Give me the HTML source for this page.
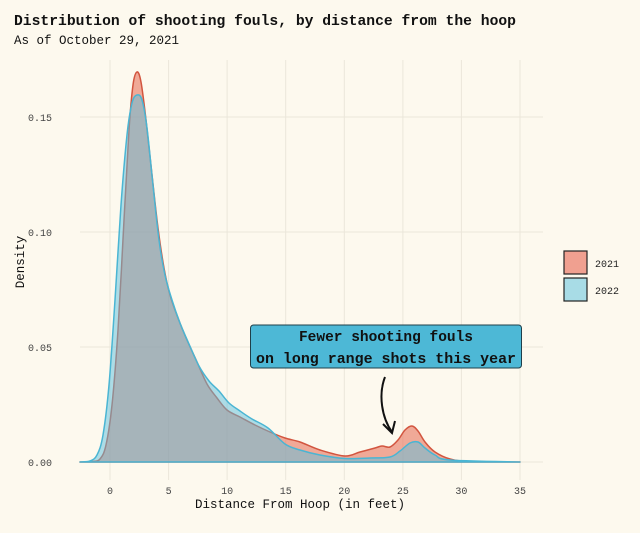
<!DOCTYPE html>
<html><head><meta charset="utf-8"><style>
body{margin:0;background:#fdf9ee;}
svg{display:block;font-family:"Liberation Mono","DejaVu Sans Mono",monospace;}
</style></head><body>
<svg width="640" height="533" viewBox="0 0 640 533">
<rect width="640" height="533" fill="#fdf9ee"/>
<text x="14" y="25" font-size="15" font-weight="bold" fill="#111" textLength="502" lengthAdjust="spacingAndGlyphs">Distribution of shooting fouls, by distance from the hoop</text>
<text x="14" y="44" font-size="12.5" fill="#111">As of October 29, 2021</text>
<g stroke="#ebe6da" stroke-width="1">
<line x1="80" x2="543" y1="462" y2="462"/><line x1="80" x2="543" y1="347" y2="347"/><line x1="80" x2="543" y1="232" y2="232"/><line x1="80" x2="543" y1="117" y2="117"/>
<line x1="110" x2="110" y1="60" y2="480"/><line x1="168.6" x2="168.6" y1="60" y2="480"/><line x1="227.1" x2="227.1" y1="60" y2="480"/><line x1="285.7" x2="285.7" y1="60" y2="480"/><line x1="344.3" x2="344.3" y1="60" y2="480"/><line x1="402.9" x2="402.9" y1="60" y2="480"/><line x1="461.4" x2="461.4" y1="60" y2="480"/><line x1="520" x2="520" y1="60" y2="480"/>
</g>
<g font-size="10" fill="#444" text-anchor="end">
<text x="52" y="466">0.00</text><text x="52" y="351">0.05</text><text x="52" y="236">0.10</text><text x="52" y="121">0.15</text>
</g>
<g font-size="10" fill="#444" text-anchor="middle">
<text x="110" y="494">0</text><text x="168.6" y="494">5</text><text x="227.1" y="494">10</text><text x="285.7" y="494">15</text><text x="344.3" y="494">20</text><text x="402.9" y="494">25</text><text x="461.4" y="494">30</text><text x="520" y="494">35</text>
</g>
<text x="300" y="508" font-size="12.5" fill="#111" text-anchor="middle">Distance From Hoop (in feet)</text>
<text transform="translate(24,262) rotate(-90)" font-size="12.5" fill="#111" text-anchor="middle">Density</text>
<path id="red" fill="#e8735e" fill-opacity="0.6" stroke="#d2553f" stroke-width="1.5" stroke-linejoin="round" d=""/>
<path id="blue" fill="#5bc0de" fill-opacity="0.5" stroke="#4ab5d3" stroke-width="1.5" stroke-linejoin="round" d=""/>
<rect x="250.5" y="325" width="271" height="43" rx="3" fill="#4db8d6" stroke="#1f3f4a" stroke-width="1"/>
<text x="386" y="341" font-size="14.5" font-weight="bold" fill="#111" text-anchor="middle">Fewer shooting fouls</text>
<text x="386" y="363" font-size="14.5" font-weight="bold" fill="#111" text-anchor="middle" textLength="260" lengthAdjust="spacingAndGlyphs">on long range shots this year</text>
<path d="M385,377 C378,395 382,418 392,432" fill="none" stroke="#111" stroke-width="2"/>
<path d="M383,424 L392,433 L395,421" fill="none" stroke="#111" stroke-width="2"/>
<rect x="564" y="251" width="23" height="23" fill="#f0a090" stroke="#222" stroke-width="1.2"/>
<rect x="564" y="278" width="23" height="23" fill="#a8dce6" stroke="#222" stroke-width="1.2"/>
<text x="595" y="267" font-size="10" fill="#222">2021</text>
<text x="595" y="294" font-size="10" fill="#222">2022</text>
</svg>
<script>
function smooth(p){
  var d="M"+p[0][0]+","+p[0][1];
  for(var i=0;i<p.length-1;i++){
    var p0=p[i-1]||p[i],p1=p[i],p2=p[i+1],p3=p[i+2]||p2;
    var c1x=p1[0]+(p2[0]-p0[0])/6,c1y=p1[1]+(p2[1]-p0[1])/6;
    var c2x=p2[0]-(p3[0]-p1[0])/6,c2y=p2[1]-(p3[1]-p1[1])/6;
    d+=" C"+c1x.toFixed(1)+","+c1y.toFixed(1)+" "+c2x.toFixed(1)+","+c2y.toFixed(1)+" "+p2[0]+","+p2[1];
  }
  return d+" Z";
}
var red=[[80,462],[92,461.5],[100,459],[106,445],[112,405],[118,330],[124,220],[129,130],[133,85],[137,72],[141,82],[146,120],[152,175],[158,228],[164,268],[170,295],[178,318],[187,340],[197,362],[207,384],[217,398],[227,410],[240,417],[255,425],[270,432],[285,438],[300,442],[320,450],[345,456],[360,452],[375,448],[382,446],[390,447],[398,440],[405,430],[412,426],[418,431],[425,442],[435,452],[450,459],[470,461.5],[520,462]];
var blue=[[80,462],[90,461],[97,455],[103,435],[109,385],[115,300],[121,205],[127,135],[132,103],[137,95],[142,100],[147,128],[153,185],[159,240],[165,275],[172,300],[180,323],[189,344],[199,366],[209,381],[219,391],[229,403],[240,411],[252,419],[268,428],[285,444],[300,450],[320,455],[345,458.5],[370,458],[390,457],[400,451],[410,443],[418,442],[425,448],[435,455],[450,460],[520,462]];
document.getElementById("red").setAttribute("d",smooth(red));
document.getElementById("blue").setAttribute("d",smooth(blue));
</script>
</body></html>
